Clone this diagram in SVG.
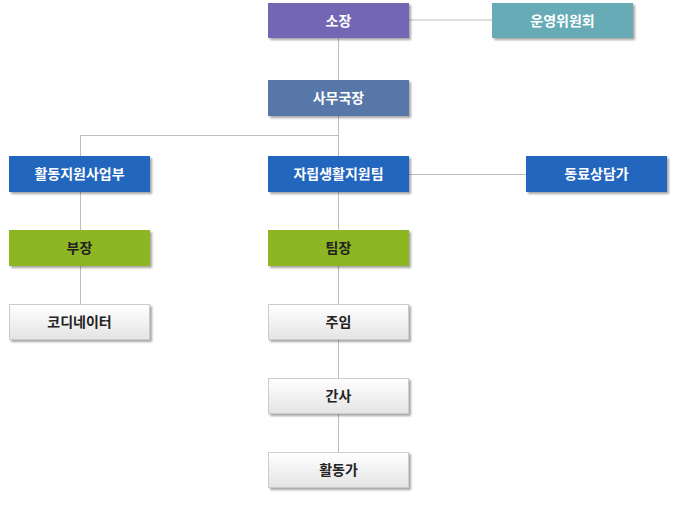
<svg xmlns="http://www.w3.org/2000/svg" width="680" height="510" viewBox="0 0 680 510">
<defs>
<linearGradient id="wg" x1="0" y1="0" x2="0" y2="1"><stop offset="0" stop-color="#ffffff"/><stop offset="1" stop-color="#e4e4e4"/></linearGradient>
<filter id="sh" x="-10%" y="-20%" width="130%" height="160%"><feDropShadow dx="2" dy="2" stdDeviation="1.2" flood-color="#000" flood-opacity="0.35"/></filter>
</defs>
<style>
rect{filter:url(#sh)}
text{font-family:"Noto Sans CJK KR","Noto Sans",sans-serif;font-size:14px;font-weight:bold;text-anchor:middle;fill:#fff}
.d{fill:#222}
.w{fill:url(#wg);stroke:#cccccc;stroke-width:1}
#conn line{stroke:#bdbdbd;stroke-width:1}
</style>
<rect width="680" height="510" fill="#fff" style="filter:none"/>
<g id="conn">
<line x1="408" y1="20" x2="492" y2="20"/>
<line x1="338.5" y1="38" x2="338.5" y2="80"/>
<line x1="338.5" y1="116" x2="338.5" y2="156"/>
<line x1="80.5" y1="135.5" x2="338.5" y2="135.5"/>
<line x1="80.5" y1="135" x2="80.5" y2="156"/>
<line x1="408" y1="174.5" x2="526" y2="174.5"/>
<line x1="80.5" y1="192" x2="80.5" y2="230"/>
<line x1="80.5" y1="266" x2="80.5" y2="304"/>
<line x1="338.5" y1="192" x2="338.5" y2="452"/>
</g>
<g id="n1"><rect x="268" y="3" width="141" height="35" fill="#7266b5"/><text x="338.5" y="26">소장</text></g>
<g id="n2"><rect x="492" y="3" width="141" height="35" fill="#66abb6"/><text x="562.5" y="26">운영위원회</text></g>
<g id="n3"><rect x="268" y="80" width="141" height="36" fill="#5677a7"/><text x="338.5" y="103">사무국장</text></g>
<g id="n4"><rect x="9" y="156" width="141" height="36" fill="#2466bd"/><text x="79.5" y="179">활동지원사업부</text></g>
<g id="n5"><rect x="268" y="156" width="141" height="36" fill="#2466bd"/><text x="338.5" y="179">자립생활지원팀</text></g>
<g id="n6"><rect x="526" y="156" width="141" height="36" fill="#2466bd"/><text x="596.5" y="179">동료상담가</text></g>
<g id="n7"><rect x="9" y="230" width="141" height="36" fill="#8db622"/><text class="d" x="79.5" y="253">부장</text></g>
<g id="n8"><rect x="268" y="230" width="141" height="36" fill="#8db622"/><text class="d" x="338.5" y="253">팀장</text></g>
<g id="n9"><rect class="w" x="9.5" y="304.5" width="140" height="35"/><text class="d" x="79.5" y="327">코디네이터</text></g>
<g id="n10"><rect class="w" x="268.5" y="304.5" width="140" height="35"/><text class="d" x="338.5" y="327">주임</text></g>
<g id="n11"><rect class="w" x="268.5" y="378.5" width="140" height="35"/><text class="d" x="338.5" y="401">간사</text></g>
<g id="n12"><rect class="w" x="268.5" y="452.5" width="140" height="35"/><text class="d" x="338.5" y="475">활동가</text></g>
</svg>
